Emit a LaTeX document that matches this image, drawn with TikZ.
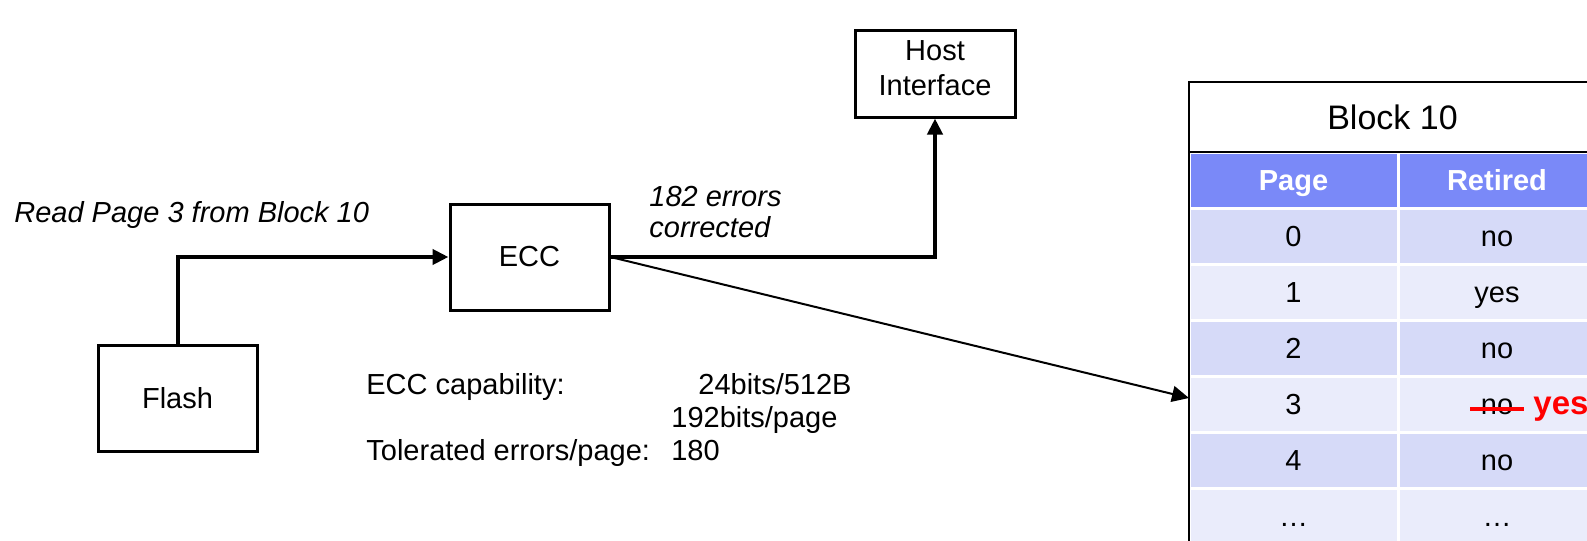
\documentclass[tikz,border=0pt]{standalone}
\usepackage{fontspec}
\setmainfont{Liberation Sans}
\usetikzlibrary{arrows.meta,positioning}
\definecolor{hdrblue}{RGB}{122,137,248}
\definecolor{rowdark}{RGB}{214,218,248}
\definecolor{rowlight}{RGB}{234,236,251}
\newcommand{\txtsize}{\fontsize{14.5}{17.5}\selectfont}

\begin{document}
\begin{tikzpicture}[x=0.5pt,y=-0.5pt,
	box/.style={draw,line width=1.5pt,minimum width=79.5pt,minimum height=53pt,font=\txtsize,align=center},
	flow/.style={line width=2pt,-{Triangle[length=8pt,width=7.5pt]}},
	thin flow/.style={line width=1pt,-{Triangle[length=8.5pt,width=8pt]}},
	note/.style={inner sep=0,align=left,font=\txtsize\itshape},
	cell/.style={minimum width=104.5pt,minimum height=28pt,inner sep=0,outer sep=0,draw=white,line width=1.5pt,font=\txtsize,text height=10.4pt,text depth=0pt},
	cellb/.style={cell,minimum width=99pt},
	]
	\useasboundingbox (0,0) rectangle (1587,541);
	\clip (0,0) rectangle (1587,541);
	\node[box] (flash) at (177.5,398.5) {Flash};
	\node[box] (ecc) at (529.5,257) {ECC};
	\node[box,minimum width=80pt,minimum height=43.5pt,text depth=5.5pt] (host) at (935,73.5) {Host\\Interface};
	\node[note,anchor=west] (rd) at (14,215) {Read Page 3 from Block 10};
	\node[note,anchor=west,font=\fontsize{14.5}{15.5}\selectfont\itshape] (fixed) at (649,212.5) {182 errors\\corrected};
	\node[anchor=west,inner sep=0,font=\fontsize{14.5}{16.5}\selectfont] (cap) at (366,421) {%
		\begin{tabular}{@{}p{152.5pt}@{}l@{}}
			ECC capability: & \hspace{13.5pt}24bits/512B\\
			 & 192bits/page\\
			Tolerated errors/page: & 180
		\end{tabular}};
	\node[cell,fill=hdrblue,text=white,font=\txtsize\bfseries] (hp) at (1293.5,180) {Page};
	\node[cellb,fill=hdrblue,text=white,font=\txtsize\bfseries] (hr) at (1497,180) {Retired};
	\foreach \i/\pg/\rt/\shade in {0/0/no/rowdark,1/1/yes/rowlight,2/2/no/rowdark,3/3/{}/rowlight,4/4/no/rowdark,5/…/…/rowlight}{
		\node[cell,fill=\shade] (p\i) at (1293.5,236+56*\i) {\pg};
		\node[cellb,fill=\shade] (r\i) at (1497,236+56*\i) {\rt};
	}
	\node[draw,line width=1.2pt,minimum width=203.5pt,minimum height=35pt,inner sep=0,outer sep=0,font=\fontsize{17}{20}\selectfont] (title) at (1392.5,117) {Block 10};
	\draw[line width=1.2pt] (title.north west) -- (title.north west |- 0,560);
	\node[inner sep=0,anchor=base,font=\txtsize] (old) at (1497,414) {no};
	\draw[red,line width=2pt] ([xshift=-5pt,yshift=-1.5pt]old.west) -- ([xshift=5pt,yshift=-1.5pt]old.east);
	\node[inner sep=0,anchor=base west,text=red,font=\fontsize{16.5}{19}\selectfont\bfseries] (new) at (1533,414) {yes};
	\draw[flow] (flash.north) |- (ecc.west);
	\draw[flow] (ecc.east) -| (host.south);
	\draw[thin flow] (ecc.east) -- ([yshift=3pt]p3.west);
\end{tikzpicture}
\end{document}
